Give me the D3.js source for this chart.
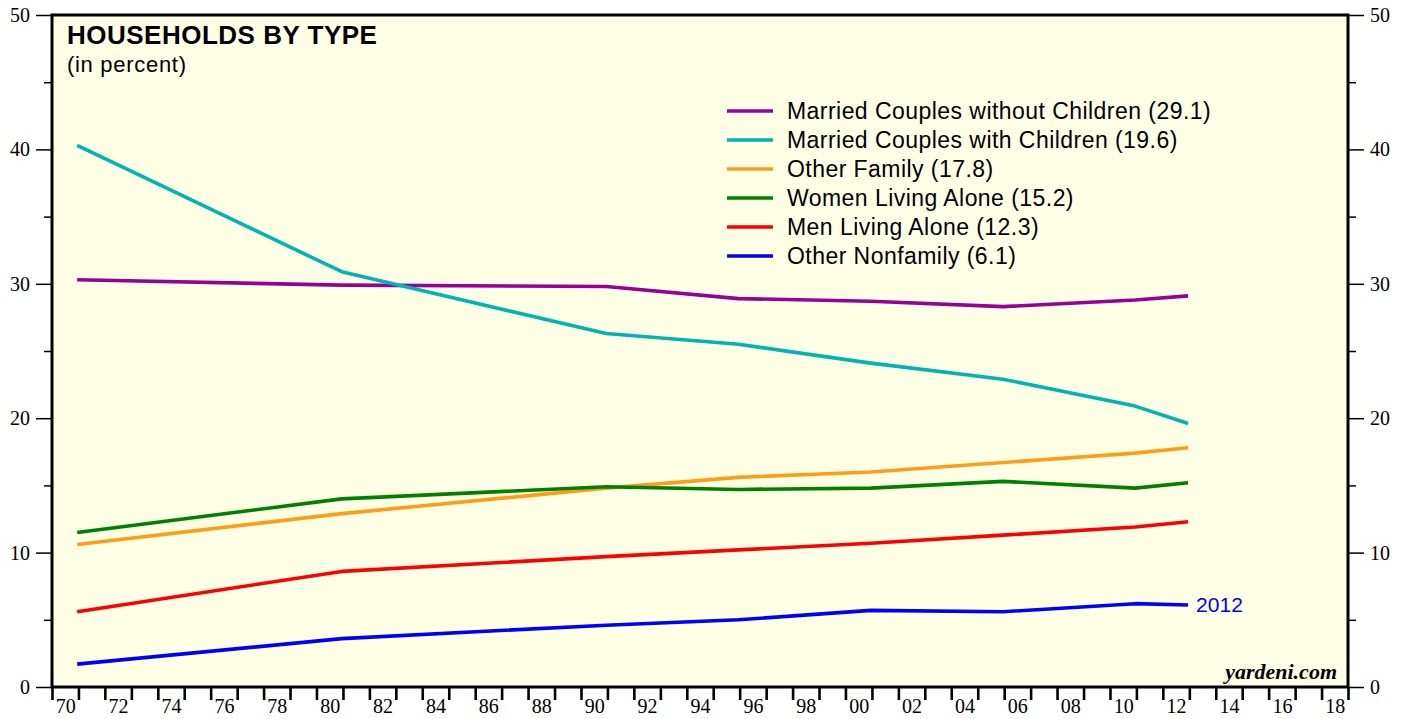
<!DOCTYPE html>
<html>
<head>
<meta charset="utf-8">
<script src="https://cdn.jsdelivr.net/npm/d3@7"></script>
<style>
  html, body { margin: 0; padding: 0; background: #ffffff; }
  svg { display: block; }
</style>
</head>
<body>
<svg id="chart" width="1407" height="719"></svg>
<script>
// ---- data ----
const years = [1970, 1980, 1990, 1995, 2000, 2005, 2010, 2012];
const marriedNoKids = [30.3, 29.9, 29.8, 28.9, 28.7, 28.3, 28.8, 29.1];
const marriedKids   = [40.3, 30.9, 26.3, 25.5, 24.1, 22.9, 20.9, 19.6];
const otherFamily   = [10.6, 12.9, 14.8, 15.6, 16.0, 16.7, 17.4, 17.8];
const womenAlone    = [11.5, 14.0, 14.9, 14.7, 14.8, 15.3, 14.8, 15.2];
const menAlone      = [5.6, 8.6, 9.7, 10.2, 10.7, 11.3, 11.9, 12.3];
const otherNonfam   = [1.7, 3.6, 4.6, 5.0, 5.7, 5.6, 6.2, 6.1];

const seriesNames = [
  "Married Couples without Children (29.1)",
  "Married Couples with Children (19.6)",
  "Other Family (17.8)",
  "Women Living Alone (15.2)",
  "Men Living Alone (12.3)",
  "Other Nonfamily (6.1)"
];
const seriesValues = [marriedNoKids, marriedKids, otherFamily, womenAlone, menAlone, otherNonfam];
const seriesColors = ["#990099", "#00b4b4", "#ff9e16", "#008000", "#ff0000", "#0000ff"];

const yMajorTicks = [0, 10, 20, 30, 40, 50];
const yMinorTicks = [5, 15, 25, 35, 45];
const xTickYears = d3.range(1970, 2020);
const xLabelYears = d3.range(1970, 2019, 2);

// ---- layout ----
const svg = d3.select("#chart");
const L = 52, R = 1348, T = 15, B = 687;

const x = d3.scaleTime()
  .domain([new Date(1970, 0, 1), new Date(2019, 0, 1)])
  .range([L, R]);
const y = d3.scaleLinear().domain([0, 50]).range([B, T]);

// plot background
svg.append("rect")
  .attr("x", L).attr("y", T).attr("width", R - L).attr("height", B - T)
  .attr("fill", "#ffffe6");

// lines
const line = d3.line()
  .x((d, i) => x(new Date(years[i], 11, 15)))
  .y(d => y(d));

svg.append("g").selectAll("path")
  .data(seriesValues)
  .join("path")
  .attr("d", d => line(d))
  .attr("fill", "none")
  .attr("stroke", (d, i) => seriesColors[i])
  .attr("stroke-width", 3.6)
  .attr("stroke-linejoin", "round");

// 2012 label
svg.append("text")
  .attr("x", x(new Date(years[years.length - 1], 11, 15)) + 8)
  .attr("y", y(otherNonfam[otherNonfam.length - 1]))
  .attr("dy", "0.35em")
  .attr("fill", "#0000ff")
  .attr("font-family", "Liberation Sans, Arial, sans-serif")
  .attr("font-size", 21)
  .text("2012");

// axes
const serif = "Liberation Serif, Times New Roman, serif";
function styleAxis(g) {
  g.select(".domain").remove();
  g.selectAll(".tick line").attr("stroke", "#000").attr("stroke-width", 1.5);
  g.selectAll(".tick text").attr("fill", "#000").attr("font-family", serif).attr("font-size", 20);
}

svg.append("g").attr("transform", `translate(${L},0)`)
  .call(d3.axisLeft(y).tickValues(yMajorTicks).tickSize(16).tickPadding(6).tickFormat(d3.format("d")))
  .call(styleAxis);
svg.append("g").attr("transform", `translate(${L},0)`)
  .call(d3.axisLeft(y).tickValues(yMinorTicks).tickSize(8).tickFormat(""))
  .call(styleAxis);
svg.append("g").attr("transform", `translate(${R},0)`)
  .call(d3.axisRight(y).tickValues(yMajorTicks).tickSize(16).tickPadding(6).tickFormat(d3.format("d")))
  .call(styleAxis);
svg.append("g").attr("transform", `translate(${R},0)`)
  .call(d3.axisRight(y).tickValues(yMinorTicks).tickSize(8).tickFormat(""))
  .call(styleAxis);

// bottom: ticks every year, labels centered on even years
svg.append("g").attr("transform", `translate(0,${B})`)
  .call(d3.axisBottom(x).tickValues(xTickYears.map(yr => new Date(yr, 0, 1))).tickSize(13).tickFormat(""))
  .call(g => {
    g.select(".domain").remove();
    g.selectAll(".tick line").attr("stroke", "#000").attr("stroke-width", 2.6);
  });
svg.append("g").attr("transform", `translate(0,${B})`)
  .call(d3.axisBottom(x).tickValues(xLabelYears.map(yr => new Date(yr, 6, 2))).tickSize(0).tickPadding(12)
    .tickFormat(d => String(d.getFullYear() % 100).padStart(2, "0")))
  .call(g => {
    g.select(".domain").remove();
    g.selectAll(".tick text").attr("fill", "#000").attr("font-family", serif).attr("font-size", 20);
  });

// frame
svg.append("rect")
  .attr("x", L).attr("y", T).attr("width", R - L).attr("height", B - T)
  .attr("fill", "none").attr("stroke", "#000").attr("stroke-width", 3);

// title
const sans = "Liberation Sans, Arial, Helvetica, sans-serif";
svg.append("text").attr("x", 67).attr("y", 44)
  .attr("font-family", sans).attr("font-weight", "bold").attr("font-size", 26)
  .attr("letter-spacing", 0.5)
  .attr("fill", "#000").text("HOUSEHOLDS BY TYPE");
svg.append("text").attr("x", 67).attr("y", 72)
  .attr("font-family", sans).attr("font-size", 22)
  .attr("letter-spacing", 0.7)
  .attr("fill", "#000").text("(in percent)");

// legend
const lg = svg.append("g").attr("transform", "translate(727,111)");
const rows = lg.selectAll("g").data(seriesNames).join("g")
  .attr("transform", (d, i) => `translate(0,${i * 29})`);
rows.append("line").attr("x1", 0).attr("x2", 46).attr("y1", 0).attr("y2", 0)
  .attr("stroke", (d, i) => seriesColors[i]).attr("stroke-width", 3.6);
rows.append("text").attr("x", 60).attr("dy", "0.36em")
  .attr("font-family", sans).attr("font-size", 23).attr("letter-spacing", 0.45).attr("fill", "#000")
  .text(d => d);

// source
svg.append("text").attr("x", 1337).attr("y", 679).attr("text-anchor", "end")
  .attr("font-family", serif).attr("font-weight", "bold").attr("font-style", "italic")
  .attr("font-size", 22).attr("fill", "#000").text("yardeni.com");
</script>
</body>
</html>
